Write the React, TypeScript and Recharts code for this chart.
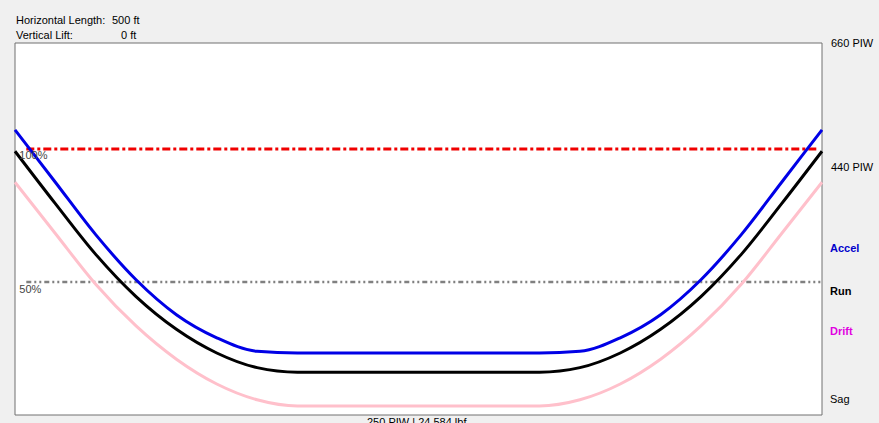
import { LineChart, Line, XAxis, YAxis, ReferenceArea, ReferenceLine } from "recharts";

const feet = [0, 25, 50, 75, 100, 125, 150, 175, 200, 225, 250, 275, 300, 325, 350, 375, 400, 425, 450, 475, 500];
const accel = [506, 413, 320, 240, 178, 137, 113, 110, 110, 110, 110, 110, 110, 110, 113, 137, 178, 240, 320, 413, 506];
const run = [468, 375, 285, 210, 152, 110, 84, 76, 76, 76, 76, 76, 76, 76, 84, 110, 152, 210, 285, 375, 468];
const drift = [413, 322, 232, 158, 99, 55, 27, 16, 16, 16, 16, 16, 16, 16, 27, 55, 99, 158, 232, 322, 413];
const yTicks = [440, 660];
const fullLimit = 472;
const halfLimit = 236;

const data = feet.map((ft, i) => ({ ft, accel: accel[i], run: run[i], drift: drift[i] }));

const font = "'Liberation Sans', Arial, sans-serif";

function PiwTick(props: any) {
  const { x, y, payload } = props;
  return (
    <text x={x + 7} y={y + 4} fontSize={11} fontFamily={font} fill="#000">
      {`${payload.value} PIW`}
    </text>
  );
}

export default function App() {
  return (
    <div
      style={{
        position: "fixed",
        left: 0,
        top: 0,
        width: 879,
        height: 423,
        background: "#f0f0f0",
        overflow: "hidden",
        fontFamily: font,
        fontSize: 11,
      }}
    >
      <div style={{ position: "absolute", left: 16, top: 14 }}>Horizontal Length:</div>
      <div style={{ position: "absolute", left: 112, top: 14 }}>500 ft</div>
      <div style={{ position: "absolute", left: 16, top: 29 }}>Vertical Lift:</div>
      <div style={{ position: "absolute", left: 121, top: 29 }}>0 ft</div>

      <LineChart width={879} height={423} data={data} margin={{ top: 43, right: 0, bottom: 8, left: 15 }}>
        <XAxis
          type="number"
          dataKey="ft"
          domain={[0, 500]}
          tick={false}
          tickLine={false}
          height={0}
          axisLine={{ stroke: "#777", strokeWidth: 2, strokeDasharray: "3 2" }}
        />
        <YAxis
          orientation="right"
          domain={[0, 660]}
          ticks={yTicks}
          width={57}
          axisLine={false}
          tickLine={false}
          tickSize={0}
          tick={<PiwTick />}
        />
        <ReferenceArea x1={0} x2={500} y1={0} y2={660} fill="#fff" fillOpacity={1} stroke="#707070" strokeWidth={1} />
        <ReferenceLine
          segment={[{ x: 7, y: fullLimit }, { x: 497, y: fullLimit }]}
          stroke="#f00000"
          strokeWidth={3}
          strokeDasharray="8 3 3 3"
          label={{ value: "100%", position: "insideBottomLeft", fill: "#444", fontSize: 11, fontFamily: font, dx: -12, dy: 15 }}
        />
        <ReferenceLine
          segment={[{ x: 7, y: halfLimit }, { x: 499, y: halfLimit }]}
          stroke="#808080"
          strokeWidth={2.5}
          strokeDasharray="5 3 2 3 2 3"
          label={{ value: "50%", position: "insideBottomLeft", fill: "#444", fontSize: 11, fontFamily: font, dx: -12, dy: 16 }}
        />
        <Line type="monotone" dataKey="drift" stroke="#ffc0cb" strokeWidth={3} dot={false} isAnimationActive={false} />
        <Line type="monotone" dataKey="run" stroke="#000" strokeWidth={3} dot={false} isAnimationActive={false} />
        <Line type="monotone" dataKey="accel" stroke="#0000e6" strokeWidth={3} dot={false} isAnimationActive={false} />
      </LineChart>

      <div style={{ position: "absolute", left: 830, top: 242, color: "#0000cc", fontWeight: "bold" }}>Accel</div>
      <div style={{ position: "absolute", left: 830, top: 285, color: "#000", fontWeight: "bold" }}>Run</div>
      <div style={{ position: "absolute", left: 830, top: 325, color: "#e000e0", fontWeight: "bold" }}>Drift</div>
      <div style={{ position: "absolute", left: 830, top: 393, color: "#000" }}>Sag</div>
      <div style={{ position: "absolute", left: 367, top: 416, color: "#000" }}>250 PIW | 24,584 lbf</div>
    </div>
  );
}
